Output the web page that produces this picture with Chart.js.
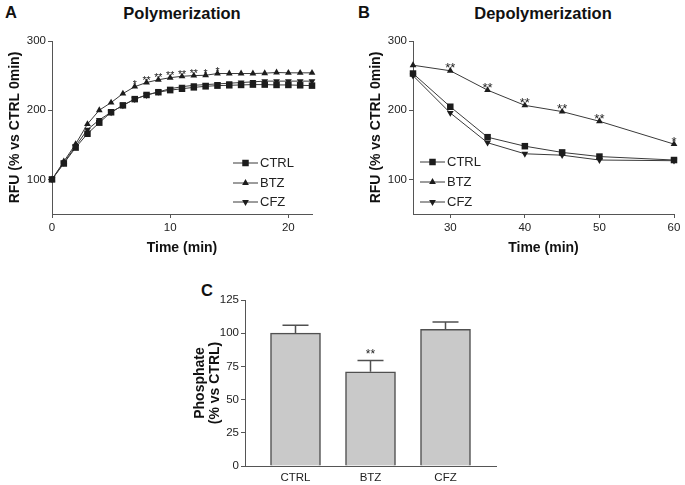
<!DOCTYPE html>
<html><head><meta charset="utf-8">
<script src="https://cdn.jsdelivr.net/npm/chart.js@4.4.0/dist/chart.umd.min.js"></script>
<style>
body{margin:0;background:#fff;width:685px;height:485px;position:relative;overflow:hidden;font-family:"Liberation Sans",Arial,sans-serif;}
canvas{position:absolute;}
.lbl{position:absolute;font-weight:bold;color:#111;font-size:16.5px;line-height:18px;white-space:nowrap;}
.ttl{position:absolute;font-weight:bold;color:#111;font-size:16.5px;line-height:18px;text-align:center;width:240px;white-space:nowrap;}
</style></head><body>
<div class="lbl" style="left:5px;top:3px;">A</div>
<div class="lbl" style="left:358px;top:3px;">B</div>
<div class="lbl" style="left:201px;top:281px;">C</div>
<div class="ttl" style="left:62px;top:4px;">Polymerization</div>
<div class="ttl" style="left:423px;top:4px;">Depolymerization</div>
<canvas id="cA" width="340" height="265" style="left:0;top:0;"></canvas>
<canvas id="cB" width="340" height="265" style="left:345px;top:0;"></canvas>
<canvas id="cC" width="330" height="210" style="left:180px;top:275px;"></canvas>
<script>
// ---------- data ----------
const seriesNames = ['CTRL', 'BTZ', 'CFZ'];
const timeA = [0,1,2,3,4,5,6,7,8,9,10,11,12,13,14,15,16,17,18,19,20,21,22];
const ctrlA = [100,123,146,166,182,197,207,216,222,226,229,231,233,234.5,235.5,236,236.5,237,237,236.5,236.5,236,235.5];
const btzA  = [100,126,151,180,200,211,224,234,240,244,247,249,250,250.5,253,253,253,253,253.5,254.5,254,254,254];
const cfzA  = [100,124,148,172,186,197,207,216,222,226.5,231,234,236,237,238,239,240,241,242,242,242,242,242];
const starsA = ['','','','','','','','*','**','**','**','**','**','*','*','','','','','','','',''];
const xTicksA = [0,10,20];

const timeB = [25,30,35,40,45,50,60];
const ctrlB = [253,205,161,148,139,133,128];
const btzB  = [265,257,229,207,198,184,151];
const cfzB  = [250,196,153,137,135,128,127];
const starsB = ['','**','**','**','**','**','*'];
const xTicksB = [30,40,50,60];

const yTicksAB = [100,200,300];

const groupsC = ['CTRL','BTZ','CFZ'];
const meanC = [100,71,103];
const semC  = [6,8.5,5.5];
const starsC = ['','**',''];
const yTicksC = [0,25,50,75,100,125];

// ---------- style ----------
Chart.defaults.font.family = '"Liberation Sans", Arial, sans-serif';
Chart.defaults.color = '#222';
const AX = '#555';
const LINE = '#3a3a3a';
const MARK = '#1c1c1c';
const styles = [
  {ps:'rect', rot:0, r:4.6},
  {ps:'triangle', rot:0, r:3.9},
  {ps:'triangle', rot:180, r:3.9}
];

function drawMarker(ctx, kind, x, y) {
  ctx.save();
  ctx.fillStyle = MARK;
  ctx.beginPath();
  const s = styles[kind];
  if (s.ps === 'rect') {
    const h = Math.SQRT1_2 * s.r;
    ctx.rect(x - h, y - h, 2*h, 2*h);
  } else {
    const r = s.r, sign = s.rot ? -1 : 1;
    ctx.moveTo(x, y - sign*r);
    ctx.lineTo(x + r*Math.sin(2*Math.PI/3), y + sign*r*0.5);
    ctx.lineTo(x - r*Math.sin(2*Math.PI/3), y + sign*r*0.5);
    ctx.closePath();
  }
  ctx.fill();
  ctx.restore();
}

function legendPlugin(x1, x2, tx, ys) {
  return {
    id: 'inLegend',
    afterDraw(chart) {
      const ctx = chart.ctx;
      ctx.save();
      seriesNames.forEach((name, i) => {
        const y = ys[i];
        ctx.strokeStyle = LINE; ctx.lineWidth = 1;
        ctx.beginPath(); ctx.moveTo(x1, y); ctx.lineTo(x2, y); ctx.stroke();
        drawMarker(ctx, i, (x1 + x2) / 2, y);
        ctx.fillStyle = '#222';
        ctx.font = '13px "Liberation Sans", Arial, sans-serif';
        ctx.textBaseline = 'middle'; ctx.textAlign = 'left';
        ctx.fillText(name, tx, y + 0.5);
      });
      ctx.restore();
    }
  };
}

function starsPlugin(stars, dsIndex, size) {
  return {
    id: 'stars',
    afterDatasetsDraw(chart) {
      const meta = chart.getDatasetMeta(dsIndex);
      const ctx = chart.ctx;
      ctx.save();
      ctx.fillStyle = '#222';
      ctx.font = size + 'px "Liberation Sans", Arial, sans-serif';
      ctx.textAlign = 'center'; ctx.textBaseline = 'alphabetic';
      meta.data.forEach((pt, i) => {
        if (stars[i]) ctx.fillText(stars[i], pt.x, pt.y + 1.5);
      });
      ctx.restore();
    }
  };
}

const tickFont = {size: 11.5};
const titleFont = {size: 14, weight: 'bold'};

function lineChart(id, times, series, stars, starSize, xTicks, xmin, xmax, pad, legend) {
  const datasets = series.map((vals, k) => ({
    label: seriesNames[k],
    data: times.map((t, i) => ({x: t, y: vals[i]})),
    borderColor: LINE, borderWidth: 1,
    pointStyle: styles[k].ps, pointRotation: styles[k].rot, pointRadius: styles[k].r,
    pointBackgroundColor: MARK, pointBorderColor: MARK, pointBorderWidth: 0,
    pointHoverRadius: styles[k].r,
    tension: 0, clip: false
  }));
  return new Chart(document.getElementById(id), {
    type: 'line',
    data: {datasets},
    options: {
      responsive: false, animation: false, devicePixelRatio: 1,
      layout: {padding: pad},
      plugins: {legend: {display: false}, tooltip: {enabled: false}},
      scales: {
        x: {
          type: 'linear', min: xmin, max: xmax,
          afterBuildTicks: s => { s.ticks = xTicks.map(v => ({value: v})); },
          afterFit: s => { s.height = 43; },
          grid: {drawOnChartArea: false, drawTicks: true, tickLength: 4, color: AX},
          border: {display: true, color: AX, width: 1},
          ticks: {font: tickFont, padding: 3, color: '#222', maxRotation: 0},
          title: {display: true, text: 'Time (min)', font: titleFont, color: '#111', padding: {top: 0, bottom: 0}}
        },
        y: {
          type: 'linear', min: 50, max: 300,
          afterBuildTicks: s => { s.ticks = yTicksAB.map(v => ({value: v})); },
          afterFit: s => { s.width = 48; },
          grid: {drawOnChartArea: false, drawTicks: true, tickLength: 4, color: AX},
          border: {display: true, color: AX, width: 1},
          ticks: {font: tickFont, padding: 2, color: '#222'},
          title: {display: true, text: 'RFU (% vs CTRL 0min)', font: titleFont, color: '#111', padding: {top: 3, bottom: 0}}
        }
      }
    },
    plugins: [starsPlugin(stars, 1, starSize), legend]
  });
}

lineChart('cA', timeA, [ctrlA, btzA, cfzA], starsA, 10.5, xTicksA, 0, 22,
  {left: 4, top: 41, right: 28, bottom: 8},
  legendPlugin(233, 258, 260, [163, 183, 202]));

lineChart('cB', timeB, [ctrlB, btzB, cfzB], starsB, 13, xTicksB, 25, 60,
  {left: 20, top: 41, right: 11, bottom: 8},
  legendPlugin(75, 100, 102, [162, 182, 202]));

// ---------- panel C ----------
const errPlugin = {
  id: 'errbars',
  afterDatasetsDraw(chart) {
    const ctx = chart.ctx, xs = chart.scales.x, ys = chart.scales.y;
    ctx.save();
    ctx.strokeStyle = '#505050'; ctx.lineWidth = 1.5;
    meanC.forEach((m, i) => {
      const x = xs.getPixelForValue(i + 1);
      const y0 = ys.getPixelForValue(m);
      const y1 = ys.getPixelForValue(m + semC[i]);
      ctx.beginPath();
      ctx.moveTo(x, y0); ctx.lineTo(x, y1);
      ctx.moveTo(x - 13, y1); ctx.lineTo(x + 13, y1);
      ctx.stroke();
      if (starsC[i]) {
        ctx.fillStyle = '#222';
        ctx.font = '12px "Liberation Sans", Arial, sans-serif';
        ctx.textAlign = 'center'; ctx.textBaseline = 'alphabetic';
        ctx.fillText(starsC[i], x, y1 - 2);
      }
    });
    ctx.restore();
  }
};

new Chart(document.getElementById('cC'), {
  type: 'bar',
  data: {
    datasets: [{
      data: meanC.map((v, i) => ({x: i + 1, y: v})),
      backgroundColor: '#c9c9c9', borderColor: '#505050', borderWidth: 1.5,
      barThickness: 50
    }]
  },
  options: {
    responsive: false, animation: false, devicePixelRatio: 1,
    layout: {padding: {left: 10, top: 25, right: 14, bottom: 0}},
    plugins: {legend: {display: false}, tooltip: {enabled: false}},
    scales: {
      x: {
        type: 'linear', min: 1 - 50.5/75, max: 3 + 50.5/75, offset: false,
        afterBuildTicks: s => { s.ticks = groupsC.map((g, i) => ({value: i + 1})); },
        afterFit: s => { s.height = 19; },
        grid: {drawOnChartArea: false, drawTicks: false, color: AX},
        border: {display: true, color: AX, width: 1},
        ticks: {font: tickFont, padding: 5, color: '#222', maxRotation: 0,
          callback: v => groupsC[Math.round(v) - 1] || ''}
      },
      y: {
        type: 'linear', min: 0, max: 125,
        afterBuildTicks: s => { s.ticks = yTicksC.map(v => ({value: v})); },
        afterFit: s => { s.width = 55; },
        grid: {drawOnChartArea: false, drawTicks: true, tickLength: 4, color: AX},
        border: {display: true, color: AX, width: 1},
        ticks: {font: tickFont, padding: 2, color: '#222'},
        title: {display: true, text: ['Phosphate', '(% vs CTRL)'], font: {size: 14, weight: 'bold', lineHeight: 1.1}, color: '#111', padding: {top: 2, bottom: 0}}
      }
    }
  },
  plugins: [errPlugin]
});
</script>
</body></html>
